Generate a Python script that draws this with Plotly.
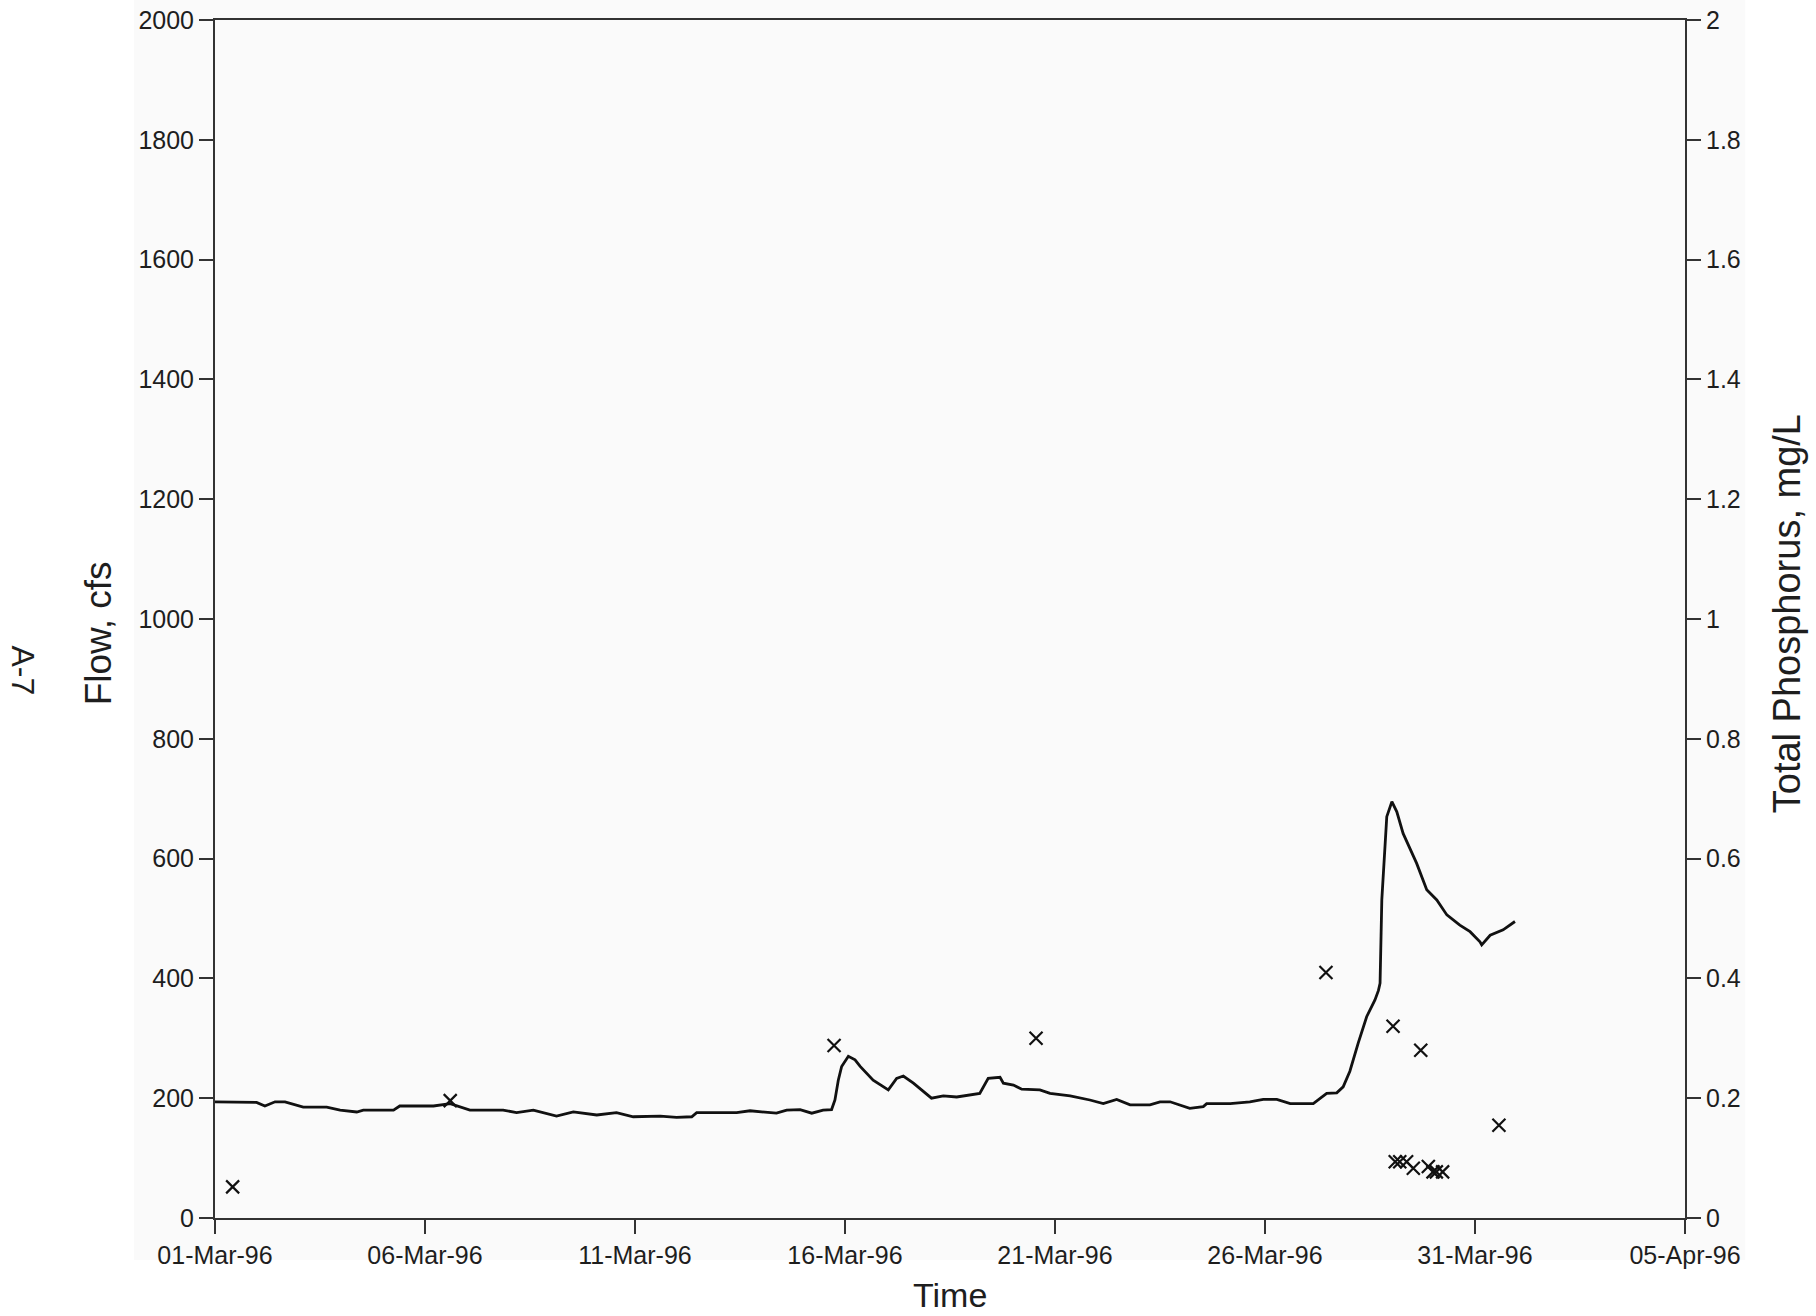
import plotly.graph_objects as go

# Stream flow record (cfs)
flow_time = [
    "1996-03-01 00:00", "1996-03-01 23:45", "1996-03-02 04:30", "1996-03-02 10:20",
    "1996-03-02 16:00", "1996-03-03 02:25", "1996-03-03 15:50", "1996-03-03 23:30",
    "1996-03-04 09:00", "1996-03-04 12:45", "1996-03-05 06:00", "1996-03-05 09:35",
    "1996-03-06 04:50", "1996-03-06 14:25", "1996-03-07 01:40", "1996-03-07 20:40",
    "1996-03-08 04:20", "1996-03-08 13:55", "1996-03-09 03:10", "1996-03-09 12:45",
    "1996-03-10 02:10", "1996-03-10 13:25", "1996-03-10 23:00", "1996-03-11 14:25",
    "1996-03-11 23:45", "1996-03-12 08:25", "1996-03-12 11:15", "1996-03-13 10:05",
    "1996-03-13 17:45", "1996-03-14 08:50", "1996-03-14 14:40", "1996-03-14 22:20",
    "1996-03-15 05:00", "1996-03-15 11:30", "1996-03-15 16:20", "1996-03-15 18:15",
    "1996-03-15 20:10", "1996-03-15 22:05", "1996-03-16 01:55", "1996-03-16 05:45",
    "1996-03-16 08:40", "1996-03-16 16:05", "1996-03-17 00:45", "1996-03-17 05:30",
    "1996-03-17 09:20", "1996-03-17 15:05", "1996-03-18 01:25", "1996-03-18 08:10",
    "1996-03-18 15:50", "1996-03-19 05:00", "1996-03-19 09:50", "1996-03-19 16:35",
    "1996-03-19 18:30", "1996-03-20 00:15", "1996-03-20 05:00", "1996-03-20 15:20",
    "1996-03-20 21:10", "1996-03-21 08:40", "1996-03-21 19:55", "1996-03-22 03:35",
    "1996-03-22 11:15", "1996-03-22 18:55", "1996-03-23 06:15", "1996-03-23 12:00",
    "1996-03-23 17:45", "1996-03-24 05:00", "1996-03-24 12:45", "1996-03-24 14:40",
    "1996-03-25 04:05", "1996-03-25 15:20", "1996-03-25 23:00", "1996-03-26 06:45",
    "1996-03-26 14:25", "1996-03-27 03:35", "1996-03-27 11:15", "1996-03-27 17:00",
    "1996-03-27 20:40", "1996-03-28 00:30", "1996-03-28 05:15", "1996-03-28 10:05",
    "1996-03-28 14:50", "1996-03-28 16:50", "1996-03-28 17:45", "1996-03-28 18:45",
    "1996-03-28 21:35", "1996-03-29 00:30", "1996-03-29 03:20", "1996-03-29 06:55",
    "1996-03-29 14:40", "1996-03-29 20:25", "1996-03-30 02:10", "1996-03-30 07:55",
    "1996-03-30 15:20", "1996-03-30 21:10", "1996-03-31 02:50", "1996-03-31 03:50",
    "1996-03-31 08:40", "1996-03-31 16:05", "1996-03-31 22:50",
]
flow_cfs = [
    194, 193, 187, 194,
    194, 185, 185, 180,
    177, 180, 180, 187,
    187, 191, 180, 180,
    176, 180, 170, 177,
    172, 176, 169, 170,
    168, 169, 176, 176,
    179, 175, 180, 181,
    175, 180, 181, 197,
    230, 253, 270, 264,
    253, 230, 214, 233,
    237, 225, 200, 204,
    202, 208, 233, 235,
    225, 222, 215, 214,
    208, 204, 197, 191,
    198, 189, 189, 194,
    194, 183, 186, 191,
    191, 194, 198, 198,
    191, 191, 208, 209,
    219, 245, 292, 336,
    364, 380, 392, 531,
    670, 695, 678, 642,
    592, 548, 531, 506,
    489, 478, 461, 456,
    472, 481, 495,
]

# Total phosphorus grab samples (mg/L)
tp_time = [
    "1996-03-01 10:05", "1996-03-06 14:25", "1996-03-15 17:45", "1996-03-20 13:10",
    "1996-03-27 10:50", "1996-03-29 01:10", "1996-03-29 02:25", "1996-03-29 05:00",
    "1996-03-29 08:55", "1996-03-29 12:45", "1996-03-29 17:00", "1996-03-29 21:20",
    "1996-03-30 00:00", "1996-03-30 01:55", "1996-03-30 05:30", "1996-03-31 13:40",
]
tp_mgl = [
    0.052, 0.196, 0.288, 0.300,
    0.410, 0.320, 0.094, 0.094,
    0.094, 0.083, 0.280, 0.086,
    0.077, 0.077, 0.077, 0.155,
]

# Axis ticks
date_ticks = ["1996-03-01", "1996-03-06", "1996-03-11", "1996-03-16",
              "1996-03-21", "1996-03-26", "1996-03-31", "1996-04-05"]
date_labels = ["01-Mar-96", "06-Mar-96", "11-Mar-96", "16-Mar-96",
               "21-Mar-96", "26-Mar-96", "31-Mar-96", "05-Apr-96"]
flow_ticks = [0, 200, 400, 600, 800, 1000, 1200, 1400, 1600, 1800, 2000]
tp_ticks = [0, 0.2, 0.4, 0.6, 0.8, 1, 1.2, 1.4, 1.6, 1.8, 2]
tp_labels = ["0", "0.2", "0.4", "0.6", "0.8", "1", "1.2", "1.4", "1.6", "1.8", "2"]

FONT = "Liberation Sans, Arial, Helvetica, sans-serif"
INK = "#1e1e1e"
AXIS = "#333333"

fig = go.Figure()

fig.add_trace(go.Scatter(
    x=flow_time, y=flow_cfs, mode="lines",
    line=dict(color="#111111", width=2.8),
    name="Flow", yaxis="y",
))

fig.add_trace(go.Scatter(
    x=tp_time, y=tp_mgl, mode="markers",
    marker=dict(symbol="x-thin", size=13, line=dict(color="#111111", width=2.2)),
    name="Total Phosphorus", yaxis="y2",
))

axis_common = dict(
    showline=True, linecolor=AXIS, linewidth=2,
    ticks="outside", ticklen=14, tickwidth=1.6, tickcolor=AXIS,
    showgrid=False, zeroline=False,
    tickfont=dict(family=FONT, size=25, color=INK),
)

fig.update_layout(
    width=1816, height=1316,
    margin=dict(l=215, r=131, t=20, b=98, autoexpand=False),
    paper_bgcolor="white",
    plot_bgcolor="#fafafa",
    showlegend=False,
    font=dict(family=FONT, color=INK),
    xaxis=dict(
        range=[date_ticks[0], date_ticks[-1]],
        tickmode="array", tickvals=date_ticks, ticktext=date_labels,
        mirror=True, automargin=False,
        **axis_common,
    ),
    yaxis=dict(
        range=[0, 2000], tickmode="array", tickvals=flow_ticks,
        automargin=False,
        **axis_common,
    ),
    yaxis2=dict(
        range=[0, 2], tickmode="array", tickvals=tp_ticks, ticktext=tp_labels,
        overlaying="y", side="right", automargin=False,
        **axis_common,
    ),
    shapes=[dict(
        type="rect", xref="paper", yref="paper", layer="below",
        x0=-0.055, x1=1.041, y0=-0.035, y1=1.02,
        fillcolor="#fafafa", line=dict(width=0),
    )],
    annotations=[
        dict(text="Flow, cfs", xref="paper", yref="paper", x=-0.0796, y=0.488,
             textangle=-90, showarrow=False, xanchor="center", yanchor="middle",
             font=dict(family=FONT, size=37, color=INK)),
        dict(text="Total Phosphorus, mg/L", xref="paper", yref="paper", x=1.0694, y=0.504,
             textangle=-90, showarrow=False, xanchor="center", yanchor="middle",
             font=dict(family=FONT, size=38, color=INK)),
        dict(text="Time", xref="paper", yref="paper", x=0.5, y=-0.0643,
             showarrow=False, xanchor="center", yanchor="middle",
             font=dict(family=FONT, size=34, color=INK)),
        dict(text="A-7", xref="paper", yref="paper", x=-0.1306, y=0.457,
             textangle=90, showarrow=False, xanchor="center", yanchor="middle",
             font=dict(family=FONT, size=32, color=INK)),
    ],
)

fig.write_html("out.html")
